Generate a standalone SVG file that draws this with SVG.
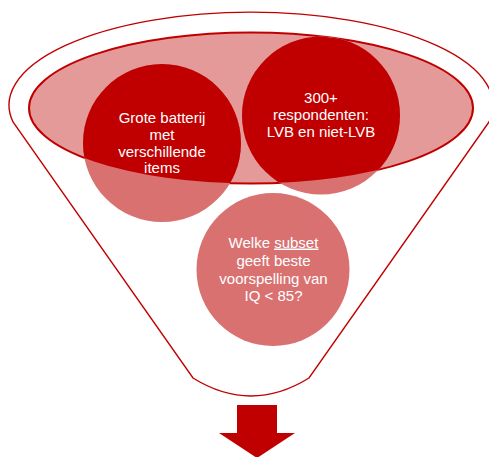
<svg xmlns="http://www.w3.org/2000/svg" width="489" height="457" viewBox="0 0 489 457">
<style>
.outline{fill:#fff;stroke:#C00000;stroke-width:1.4}
.rim{fill:#E59A9A;stroke:#C00000;stroke-width:2}
.light{fill:#D97171}
.dark{fill:#C00000}
.lbl{font-family:"Liberation Sans",Arial,sans-serif;font-size:15px;fill:#fff;text-anchor:middle}
</style>
<defs>
<clipPath id="rimClip"><ellipse cx="251" cy="108" rx="222" ry="75.5"/></clipPath>
</defs>
<rect width="489" height="457" fill="#fff"/>
<g id="funnel">
<path class="outline" d="M13,122 A242,93 0 1 1 489,122 L309,378 Q251,414 193,378 Z"/>
</g>
<g id="rim">
<ellipse class="rim" cx="251" cy="108" rx="222" ry="75.5"/>
</g>
<g id="node-batterij">
<circle class="light" cx="162" cy="143" r="79"/>
<circle class="dark" cx="162" cy="143" r="79" clip-path="url(#rimClip)"/>
<text class="lbl"><tspan x="162" y="122.5">Grote batterij</tspan><tspan x="162" y="139.5">met</tspan><tspan x="162" y="156.5">verschillende</tspan><tspan x="162" y="173">items</tspan></text>
</g>
<g id="node-respondenten">
<circle class="light" cx="321" cy="115.5" r="79"/>
<circle class="dark" cx="321" cy="115.5" r="79" clip-path="url(#rimClip)"/>
<text class="lbl"><tspan x="321" y="102.5">300+</tspan><tspan x="321" y="119.5">respondenten:</tspan><tspan x="321" y="136.5">LVB en niet-LVB</tspan></text>
</g>
<g id="node-vraag">
<circle class="light" cx="273" cy="269.5" r="76.5"/>
<text class="lbl"><tspan x="273.5" y="247.5">Welke <tspan text-decoration="underline">subset</tspan></tspan><tspan x="273.5" y="265.5">geeft beste</tspan><tspan x="273.5" y="283.5">voorspelling van</tspan><tspan x="273.5" y="301">IQ &lt; 85?</tspan></text>
</g>
<g id="connectors">
<polygon id="arrow" class="dark" points="237,405 277,405 277,433 295,433 257,458 219,433 237,433"/>
</g>
</svg>
